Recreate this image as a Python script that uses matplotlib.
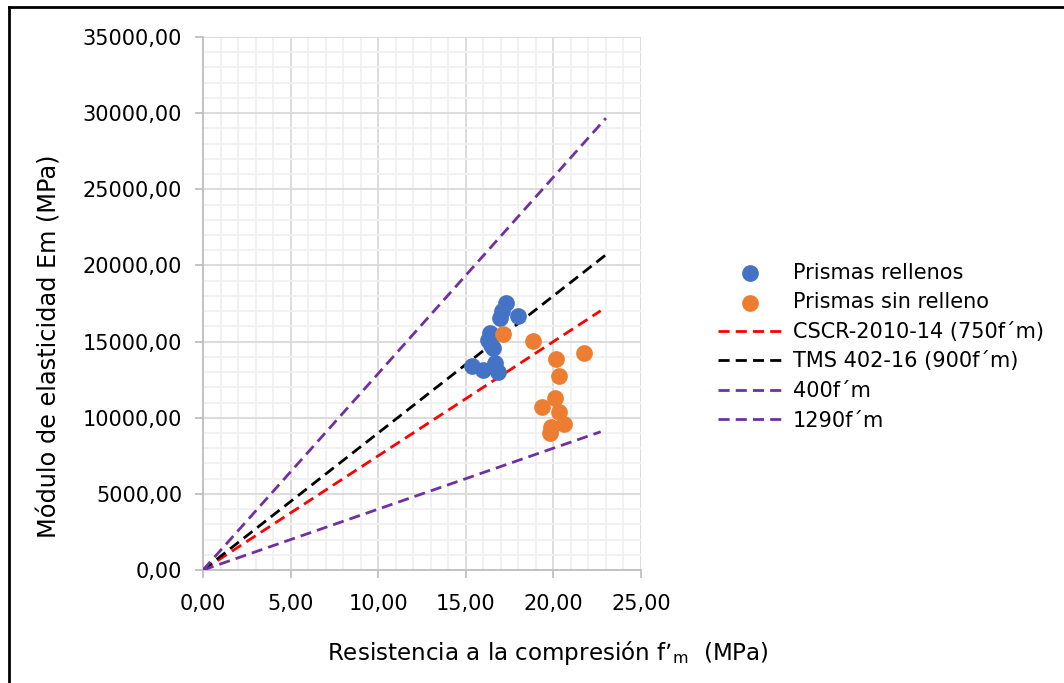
import numpy as np
import matplotlib
matplotlib.use('Agg')
import matplotlib.pyplot as plt
from matplotlib.lines import Line2D
from matplotlib.ticker import MultipleLocator, FuncFormatter

# datos
fm_rellenos = [17.28, 17.96, 17.05, 16.95, 16.38, 16.28, 16.44, 16.57, 15.34, 16.00, 16.67, 16.85]
em_rellenos = [17510, 16680, 17030, 16530, 15540, 15100, 14770, 14560, 13400, 13130, 13570, 13020]

fm_sin = [17.14, 18.85, 21.76, 20.15, 20.34, 20.09, 19.33, 20.34, 20.62, 19.86, 19.81]
em_sin = [15480, 15060, 14230, 13840, 12740, 11270, 10680, 10390, 9590, 9410, 8980]

# rectas de referencia: (etiqueta, factor, fm final)
rectas_nombre = ["CSCR-2010-14 (750f\u00b4m)", "TMS 402-16 (900f\u00b4m)", "400f\u00b4m", "1290f\u00b4m"]
rectas_factor = [750, 900, 400, 1290]
rectas_fmax = [22.7, 23.0, 22.7, 23.0]
rectas_color = ['#FF0000', '#000000', '#7030A0', '#7030A0']

fig = plt.figure(figsize=(10.64, 6.83), dpi=100)
ax = fig.add_axes([0.1908, 0.1654, 0.6024 - 0.1908, 0.9458 - 0.1654])

ax.scatter(fm_rellenos, em_rellenos, s=145, c='#4472C4', label='Prismas rellenos', zorder=4, linewidths=0)
ax.scatter(fm_sin, em_sin, s=145, c='#ED7D31', label='Prismas sin relleno', zorder=5, linewidths=0)

for nombre, k, xm, col in zip(rectas_nombre, rectas_factor, rectas_fmax, rectas_color):
    xs = np.array([0.0, xm])
    ax.plot(xs, k * xs, linestyle=(0, (4, 2.2)), color=col, lw=2, label=nombre, zorder=3)

ax.set_xlim(0, 25)
ax.set_ylim(0, 35000)
ax.xaxis.set_major_locator(MultipleLocator(5))
ax.xaxis.set_minor_locator(MultipleLocator(1))
ax.yaxis.set_major_locator(MultipleLocator(5000))
ax.yaxis.set_minor_locator(MultipleLocator(1000))
coma = FuncFormatter(lambda v, p: ('%.2f' % v).replace('.', ','))
ax.xaxis.set_major_formatter(coma)
ax.yaxis.set_major_formatter(coma)

ax.grid(which='major', color='#D9D9D9', lw=1.3, zorder=0)
ax.grid(which='minor', color='#F0F0F0', lw=1.3, zorder=0)
ax.set_axisbelow(True)
for s in ['top', 'right']:
    ax.spines[s].set_visible(False)
for s in ['left', 'bottom']:
    ax.spines[s].set_color('#BFBFBF')
    ax.spines[s].set_linewidth(1.3)
ax.tick_params(which='major', length=6, color='#BFBFBF', width=1.3, labelsize=15)
ax.tick_params(axis='y', pad=9)
ax.tick_params(axis='x', pad=11)
ax.tick_params(which='minor', length=0)

ax.set_xlabel("Resistencia a la compresi\u00f3n f\u2019$_\\mathregular{m}$  (MPa)", fontsize=16.6)
ax.set_ylabel("M\u00f3dulo de elasticidad Em (MPa)", fontsize=17.3)
ax.xaxis.set_label_coords(0.788, -0.129)
ax.yaxis.set_label_coords(-0.322, 0.42)

ax.legend(loc='center left', bbox_to_anchor=(1.132, 0.419), frameon=False, fontsize=15,
          handlelength=3.1, labelspacing=0.46, handletextpad=0.5)

# marco exterior (recortado)
fig.add_artist(Line2D([8.5 / 1064, 8.5 / 1064], [0, 1 - 7 / 683], color='black', lw=2, transform=fig.transFigure))
fig.add_artist(Line2D([8.5 / 1064, 1], [1 - 7 / 683, 1 - 7 / 683], color='black', lw=2, transform=fig.transFigure))

fig.savefig('out.png', dpi=100)
